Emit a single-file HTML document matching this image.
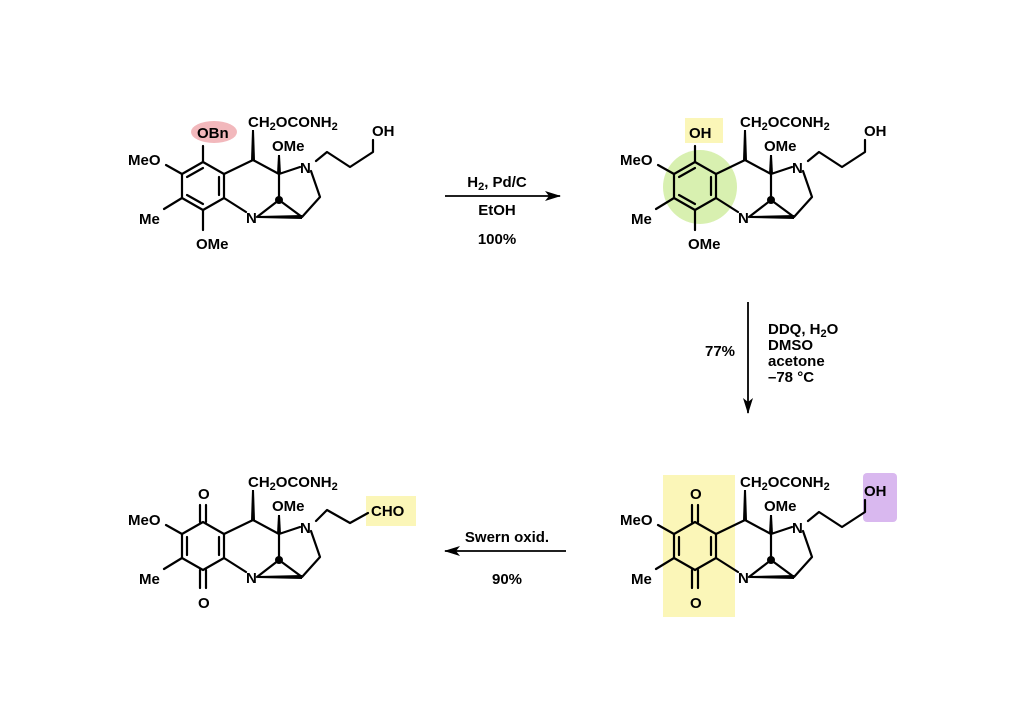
<!DOCTYPE html>
<html><head><meta charset="utf-8"><style>
html,body{margin:0;padding:0;background:#fff}
svg{display:block}
text{font-family:"Liberation Sans",Arial,sans-serif;font-weight:bold;font-size:15px;fill:#000}
.b{stroke:#000;stroke-width:2.2;fill:none;stroke-linecap:round;stroke-linejoin:round}
</style></head><body>
<svg width="1024" height="724" viewBox="0 0 1024 724" xmlns="http://www.w3.org/2000/svg">
<defs><marker id="ah" viewBox="0 0 16 10" refX="15" refY="5" markerWidth="16" markerHeight="10" markerUnits="userSpaceOnUse" orient="auto"><path d="M0,0 L16,5 L0,10 L4,5z" fill="#000"/></marker></defs>

<!-- Molecule 1 -->
<g>
<ellipse cx="214" cy="132" rx="23" ry="11" fill="#f2b8bc"/>
<path class="b" d="M203,162 L182,174 L182,198 L203,210 L224,198 L224,174 Z"/>
<path class="b" d="M203,168 L187,177 M187,195 L203,204 M219,195 L219,177"/>
<path class="b" d="M203,162 V146 M182,174 L166,165 M182,198 L164,209 M203,210 V230"/>
<path class="b" d="M224,174 L253,160 L279,174 L300,167 M224,198 L246,212 M279,174 L279,200 M257,217 L279,200 L302,217 L320,197 L311,171 M316,161 L327,152 L350,167 L373,152 V140"/>
<path d="M251,160 L255,160 L254,130 L252,130Z" fill="#000"/>
<path d="M277,174 L281,174 L280,155 L278,155Z" fill="#000"/>
<path d="M258,216 L302,215 L302,219 L258,218Z" fill="#000"/>
<circle cx="279" cy="200" r="4" fill="#000"/>
<text x="197" y="138">OBn</text>
<text x="128" y="165">MeO</text>
<text x="139" y="224">Me</text>
<text x="196" y="249">OMe</text>
<text x="248" y="127">CH<tspan font-size="11" dy="3">2</tspan><tspan dy="-3">OCONH</tspan><tspan font-size="11" dy="3">2</tspan></text>
<text x="272" y="151">OMe</text>
<text x="300" y="173">N</text>
<text x="246" y="223">N</text>
<text x="372" y="136">OH</text>
</g>

<!-- Molecule 2 -->
<g transform="translate(492,0)">
<circle cx="208" cy="187" r="37" fill="#d8f0b0"/>
<rect x="193" y="118" width="38" height="25" fill="#fbf6b8"/>
<path class="b" d="M203,162 L182,174 L182,198 L203,210 L224,198 L224,174 Z"/>
<path class="b" d="M203,168 L187,177 M187,195 L203,204 M219,195 L219,177"/>
<path class="b" d="M203,162 V146 M182,174 L166,165 M182,198 L164,209 M203,210 V230"/>
<path class="b" d="M224,174 L253,160 L279,174 L300,167 M224,198 L246,212 M279,174 L279,200 M257,217 L279,200 L302,217 L320,197 L311,171 M316,161 L327,152 L350,167 L373,152 V140"/>
<path d="M251,160 L255,160 L254,130 L252,130Z" fill="#000"/>
<path d="M277,174 L281,174 L280,155 L278,155Z" fill="#000"/>
<path d="M258,216 L302,215 L302,219 L258,218Z" fill="#000"/>
<circle cx="279" cy="200" r="4" fill="#000"/>
<text x="197" y="138">OH</text>
<text x="128" y="165">MeO</text>
<text x="139" y="224">Me</text>
<text x="196" y="249">OMe</text>
<text x="248" y="127">CH<tspan font-size="11" dy="3">2</tspan><tspan dy="-3">OCONH</tspan><tspan font-size="11" dy="3">2</tspan></text>
<text x="272" y="151">OMe</text>
<text x="300" y="173">N</text>
<text x="246" y="223">N</text>
<text x="372" y="136">OH</text>
</g>

<!-- Molecule 3 -->
<g transform="translate(492,360)">
<rect x="171" y="115" width="72" height="142" fill="#fbf6b8"/>
<rect x="371" y="113" width="34" height="49" rx="4" fill="#d9b8ef"/>
<path class="b" d="M203,162 L182,174 L182,198 L203,210 L224,198 L224,174 Z"/>
<path class="b" d="M187,177 L187,195 M219,195 L219,177"/>
<path class="b" d="M200,162 V145 M206,162 V145 M200,210 V228 M206,210 V228 M182,174 L166,165 M182,198 L164,209"/>
<path class="b" d="M224,174 L253,160 L279,174 L300,167 M224,198 L246,212 M279,174 L279,200 M257,217 L279,200 L302,217 L320,197 L311,171 M316,161 L327,152 L350,167 L373,152 V140"/>
<path d="M251,160 L255,160 L254,130 L252,130Z" fill="#000"/>
<path d="M277,174 L281,174 L280,155 L278,155Z" fill="#000"/>
<path d="M258,216 L302,215 L302,219 L258,218Z" fill="#000"/>
<circle cx="279" cy="200" r="4" fill="#000"/>
<text x="198" y="139">O</text>
<text x="128" y="165">MeO</text>
<text x="139" y="224">Me</text>
<text x="198" y="248">O</text>
<text x="248" y="127">CH<tspan font-size="11" dy="3">2</tspan><tspan dy="-3">OCONH</tspan><tspan font-size="11" dy="3">2</tspan></text>
<text x="272" y="151">OMe</text>
<text x="300" y="173">N</text>
<text x="246" y="223">N</text>
<text x="372" y="136">OH</text>
</g>

<!-- Molecule 4 -->
<g transform="translate(0,360)">
<rect x="366" y="136" width="50" height="30" fill="#fbf6b8"/>
<path class="b" d="M203,162 L182,174 L182,198 L203,210 L224,198 L224,174 Z"/>
<path class="b" d="M187,177 L187,195 M219,195 L219,177"/>
<path class="b" d="M200,162 V145 M206,162 V145 M200,210 V228 M206,210 V228 M182,174 L166,165 M182,198 L164,209"/>
<path class="b" d="M224,174 L253,160 L279,174 L300,167 M224,198 L246,212 M279,174 L279,200 M257,217 L279,200 L302,217 L320,197 L311,171 M316,161 L327,150 L350,163 L368,153"/>
<path d="M251,160 L255,160 L254,130 L252,130Z" fill="#000"/>
<path d="M277,174 L281,174 L280,155 L278,155Z" fill="#000"/>
<path d="M258,216 L302,215 L302,219 L258,218Z" fill="#000"/>
<circle cx="279" cy="200" r="4" fill="#000"/>
<text x="198" y="139">O</text>
<text x="128" y="165">MeO</text>
<text x="139" y="224">Me</text>
<text x="198" y="248">O</text>
<text x="248" y="127">CH<tspan font-size="11" dy="3">2</tspan><tspan dy="-3">OCONH</tspan><tspan font-size="11" dy="3">2</tspan></text>
<text x="272" y="151">OMe</text>
<text x="300" y="173">N</text>
<text x="246" y="223">N</text>
<text x="371" y="156">CHO</text>
</g>

<!-- Arrows -->
<line x1="445" y1="196" x2="560" y2="196" stroke="#000" stroke-width="1.8" marker-end="url(#ah)"/>
<text x="497" y="187" text-anchor="middle">H<tspan font-size="11" dy="3">2</tspan><tspan dy="-3">, Pd/C</tspan></text>
<text x="497" y="215" text-anchor="middle">EtOH</text>
<text x="497" y="244" text-anchor="middle">100%</text>

<line x1="748" y1="302" x2="748" y2="413" stroke="#000" stroke-width="1.8" marker-end="url(#ah)"/>
<text x="768" y="334">DDQ, H<tspan font-size="11" dy="3">2</tspan><tspan dy="-3">O</tspan></text>
<text x="768" y="350">DMSO</text>
<text x="768" y="366">acetone</text>
<text x="768" y="382">–78 °C</text>
<text x="705" y="356">77%</text>

<line x1="566" y1="551" x2="445" y2="551" stroke="#000" stroke-width="1.8" marker-end="url(#ah)"/>
<text x="507" y="542" text-anchor="middle">Swern oxid.</text>
<text x="507" y="584" text-anchor="middle">90%</text>
</svg>
</body></html>
